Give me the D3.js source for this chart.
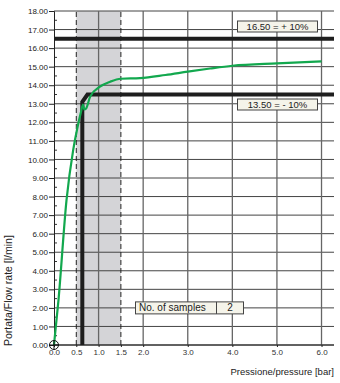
<!DOCTYPE html>
<html>
<head>
<meta charset="utf-8">
<script src="https://cdn.jsdelivr.net/npm/d3@7"></script>
<style>
  body { margin: 0; background: #fff; }
  svg { display: block; font-family: "Liberation Sans", Arial, sans-serif; }
</style>
</head>
<body>
<div id="chart"></div>
<script>
// values
var pressure = [0, 0.1, 0.28, 0.43, 0.52, 0.6, 0.65, 0.68, 0.72, 0.81, 1.03, 1.26, 1.5, 1.93, 2.5, 3.0, 3.5, 4.0, 5.0, 6.0];
var flow     = [0, 2.4, 7.8, 10.5, 11.65, 12.5, 12.95, 12.7, 12.75, 13.38, 13.92, 14.19, 14.35, 14.38, 14.55, 14.73, 14.9, 15.05, 15.18, 15.28];
var limitX = [0.635, 0.635, 0.75, 6.28];
var limitY = [0, 13.1, 13.5, 13.5];
var upperLimit = 16.5;
var bandRange = [0.5, 1.5];
var xTicks = [0, 0.5, 1, 1.5, 2, 3, 4, 5, 6];
var xGrid = [1, 2, 3, 4, 5, 6];
var yTicks = d3.range(0, 18.01, 1);
var yMinor = d3.range(0.5, 18, 1);
var upperLabel = "16.50 = + 10%";
var lowerLabel = "13.50 = - 10%";
var samples = 2;

var W = 340, H = 383;
var x = d3.scaleLinear().domain([0, 6.28]).range([54, 334]);
var y = d3.scaleLinear().domain([0, 18]).range([345, 11]);

var svg = d3.select("#chart").append("svg")
  .attr("width", W)
  .attr("height", H);

// grey band between dashed lines
svg.append("rect")
  .attr("x", x(bandRange[0]))
  .attr("y", y(18))
  .attr("width", x(bandRange[1]) - x(bandRange[0]))
  .attr("height", y(0) - y(18))
  .attr("fill", "#d4d4d7");

// horizontal grid
svg.append("g").selectAll("line")
  .data(yTicks)
  .enter().append("line")
  .attr("x1", x(0)).attr("x2", x(6.28))
  .attr("y1", function(d) { return y(d); })
  .attr("y2", function(d) { return y(d); })
  .attr("stroke", "#444")
  .attr("stroke-width", 1);

// vertical grid
svg.append("g").selectAll("line")
  .data(xGrid)
  .enter().append("line")
  .attr("x1", function(d) { return x(d); })
  .attr("x2", function(d) { return x(d); })
  .attr("y1", y(0)).attr("y2", y(18))
  .attr("stroke", "#666")
  .attr("stroke-width", 1.3);

// dashed band edges
svg.append("g").selectAll("line")
  .data(bandRange)
  .enter().append("line")
  .attr("x1", function(d) { return x(d); })
  .attr("x2", function(d) { return x(d); })
  .attr("y1", y(0)).attr("y2", y(18))
  .attr("stroke", "#222")
  .attr("stroke-width", 1)
  .attr("stroke-dasharray", "5,3");

// minor ticks inside the y axis
svg.append("g").selectAll("line")
  .data(yMinor)
  .enter().append("line")
  .attr("x1", x(0)).attr("x2", x(0) + 3)
  .attr("y1", function(d) { return y(d); })
  .attr("y2", function(d) { return y(d); })
  .attr("stroke", "#333");

// y axis
var yAxis = d3.axisLeft(y)
  .tickValues(yTicks)
  .tickSize(5)
  .tickPadding(1)
  .tickFormat(d3.format(".2f"));
var gy = svg.append("g")
  .attr("transform", "translate(" + x(0) + ",0)")
  .call(yAxis);
gy.select(".domain").attr("stroke", "#222");
gy.selectAll(".tick line").attr("stroke", "#222");
gy.selectAll(".tick text")
  .attr("font-size", 8)
  .attr("font-family", "Liberation Sans, Arial, sans-serif")
  .attr("fill", "#222");

// x axis
var xAxis = d3.axisBottom(x)
  .tickValues(xTicks)
  .tickSize(2)
  .tickPadding(2)
  .tickFormat(d3.format(".1f"));
var gx = svg.append("g")
  .attr("transform", "translate(0," + y(0) + ")")
  .call(xAxis);
gx.select(".domain").attr("stroke", "#222").attr("d", "M" + x(0) + ",0H" + x(6.28));
gx.selectAll(".tick line").attr("stroke", "#222");
gx.selectAll(".tick text")
  .attr("font-size", 8)
  .attr("font-family", "Liberation Sans, Arial, sans-serif")
  .attr("fill", "#333");

// upper limit line
svg.append("line")
  .attr("x1", x(0)).attr("x2", x(6.28))
  .attr("y1", y(upperLimit)).attr("y2", y(upperLimit))
  .attr("stroke", "#1e1e1e")
  .attr("stroke-width", 4);

// lower limit line
var limitLine = d3.line()
  .x(function(d, i) { return x(limitX[i]); })
  .y(function(d, i) { return y(limitY[i]); });
svg.append("path")
  .datum(limitX)
  .attr("d", limitLine)
  .attr("fill", "none")
  .attr("stroke", "#1e1e1e")
  .attr("stroke-width", 4)
  .attr("stroke-linejoin", "miter");

// flow curve
var curve = d3.line()
  .x(function(d, i) { return x(pressure[i]); })
  .y(function(d, i) { return y(flow[i]); })
  .curve(d3.curveMonotoneX);
svg.append("path")
  .datum(pressure)
  .attr("d", curve)
  .attr("fill", "none")
  .attr("stroke", "#12a84e")
  .attr("stroke-width", 2.2);

// origin marker
var o = svg.append("g").attr("transform", "translate(" + x(0) + "," + y(0) + ")");
o.append("circle").attr("r", 4.5).attr("fill", "none").attr("stroke", "#111").attr("stroke-width", 1);
o.append("line").attr("x1", -4.5).attr("x2", 4.5).attr("stroke", "#111");
o.append("line").attr("y1", -4.5).attr("y2", 4.5).attr("stroke", "#111");

// label boxes
function labelBox(text, cy) {
  var g = svg.append("g");
  g.append("rect")
    .attr("x", 237.5).attr("y", cy - 5.5)
    .attr("width", 80).attr("height", 11)
    .attr("fill", "#f5f4ea")
    .attr("stroke", "#444")
    .attr("stroke-width", 1);
  g.append("text")
    .attr("x", 277.5).attr("y", cy + 3.5)
    .attr("text-anchor", "middle")
    .attr("font-size", 9.5)
    .attr("fill", "#222")
    .text(text);
}
labelBox(upperLabel, 26.5);
labelBox(lowerLabel, 104.5);

// samples box
var sb = svg.append("g");
sb.append("rect")
  .attr("x", 135.5).attr("y", y(2) - 6)
  .attr("width", 108).attr("height", 12)
  .attr("fill", "#f5f4ea")
  .attr("stroke", "#444");
sb.append("line")
  .attr("x1", 216.5).attr("x2", 216.5)
  .attr("y1", y(2) - 6).attr("y2", y(2) + 6)
  .attr("stroke", "#444");
sb.append("text")
  .attr("x", 139).attr("y", y(2) + 3.5)
  .attr("font-size", 10)
  .attr("fill", "#222")
  .text("No. of samples");
sb.append("text")
  .attr("x", 230).attr("y", y(2) + 3.5)
  .attr("text-anchor", "middle")
  .attr("font-size", 10)
  .attr("fill", "#222")
  .text(samples);

// axis titles
svg.append("text")
  .attr("transform", "translate(12,346) rotate(-90)")
  .attr("font-size", 10.5)
  .attr("fill", "#222")
  .text("Portata/Flow rate [l/min]");
svg.append("text")
  .attr("x", 334).attr("y", 375)
  .attr("text-anchor", "end")
  .attr("font-size", 9.5)
  .attr("fill", "#222")
  .text("Pressione/pressure [bar]");
</script>
</body>
</html>
